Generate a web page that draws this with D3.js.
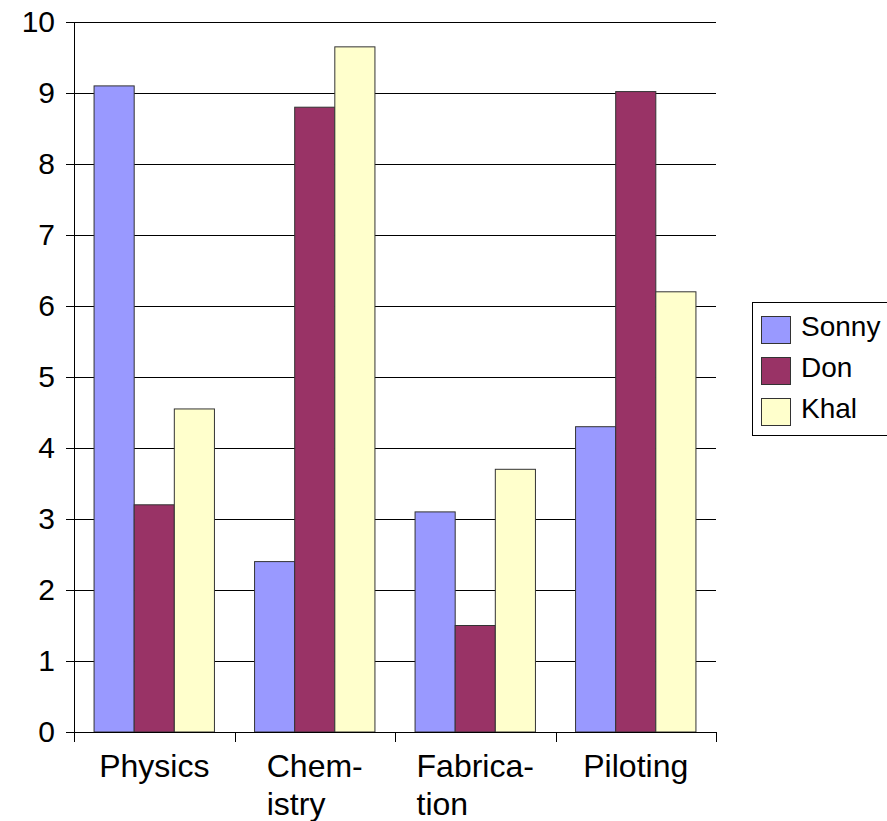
<!DOCTYPE html>
<html>
<head>
<meta charset="utf-8">
<script src="https://cdn.jsdelivr.net/npm/d3@7"></script>
<style>
  body { margin: 0; background: #fff; }
  text { font-family: "Liberation Sans", Arial, sans-serif; fill: #000; }
</style>
</head>
<body>
<svg id="chart" width="887" height="821"></svg>
<script>
// data
let categories = ["Physics", "Chemistry", "Fabrication", "Piloting"];
let catLines = [["Physics"], ["Chem-", "istry"], ["Fabrica-", "tion"], ["Piloting"]];
let seriesNames = ["Sonny", "Don", "Khal"];
let sonny = [9.1, 2.4, 3.1, 4.3];
let don = [3.2, 8.8, 1.5, 9.02];
let khal = [4.55, 9.65, 3.7, 6.2];
let yTicks = [0, 1, 2, 3, 4, 5, 6, 7, 8, 9, 10];
let colors = ["#9999FF", "#993366", "#FFFFCC"];

let svg = d3.select("#chart"),
    margin = {top: 22, left: 74},
    width = 642,
    height = 710,
    g = svg.append("g").attr("transform", "translate(" + margin.left + "," + margin.top + ")");

let values = [sonny, don, khal];
let data = categories.map(function(c, i) {
    return {cat: c, vals: seriesNames.map(function(s, j) { return {name: s, v: values[j][i], k: j}; })};
});

//scales
let x0 = d3.scaleBand().domain(categories).range([0, width]).paddingInner(0.25).paddingOuter(0.125);
let x1 = d3.scaleBand().domain(seriesNames).range([0, x0.bandwidth()]);
let y = d3.scaleLinear().domain([0, 10]).range([height, 0]);
let color = d3.scaleOrdinal().domain(seriesNames).range(colors);

//gridlines
g.selectAll(".grid")
    .data(yTicks)
    .enter()
    .append("line")
    .attr("x1", 0)
    .attr("x2", width)
    .attr("y1", function(d) { return Math.round(y(d)) + 0.5; })
    .attr("y2", function(d) { return Math.round(y(d)) + 0.5; })
    .style("stroke", "#000")
    .style("stroke-width", 1);

//bars
let groups = g.selectAll(".grp")
    .data(data)
    .enter()
    .append("g")
    .attr("transform", function(d) { return "translate(" + x0(d.cat) + ",0)"; });

groups.selectAll("rect")
    .data(function(d) { return d.vals; })
    .enter()
    .append("rect")
    .attr("x", function(d) { return x1(d.name); })
    .attr("y", function(d) { return y(d.v); })
    .attr("width", x1.bandwidth())
    .attr("height", function(d) { return height - y(d.v); })
    .style("fill", function(d) { return color(d.name); })
    .style("stroke", "#333")
    .style("stroke-width", 1);

//y axis
let yAxis = g.append("g")
    .call(d3.axisLeft(y).tickValues(yTicks).tickSize(8).tickPadding(11).tickSizeOuter(0));
yAxis.select(".domain").style("stroke", "#000");
yAxis.selectAll(".tick line").style("stroke", "#000");
yAxis.selectAll(".tick text").style("font-size", "30px");

//x axis with tick marks on band edges
let xAxis = g.append("g").attr("transform", "translate(0," + height + ")");
xAxis.append("line")
    .attr("x1", 0).attr("x2", width)
    .attr("y1", 0.5).attr("y2", 0.5)
    .style("stroke", "#000");
let edges = d3.range(categories.length + 1).map(function(i) { return i * width / categories.length; });
xAxis.selectAll(".xt")
    .data(edges)
    .enter()
    .append("line")
    .attr("x1", function(d) { return Math.round(d) + 0.5; })
    .attr("x2", function(d) { return Math.round(d) + 0.5; })
    .attr("y1", 0)
    .attr("y2", 10)
    .style("stroke", "#000");

//category labels, lines left aligned, block centred
categories.forEach(function(c, i) {
    let cx = x0(c) + x0.bandwidth() / 2;
    let t = xAxis.append("text")
        .style("font-size", "32px")
        .attr("text-anchor", "start");
    catLines[i].forEach(function(line, k) {
        t.append("tspan").attr("y", 45 + k * 38).text(line);
    });
    let w = 0;
    t.selectAll("tspan").each(function() { w = Math.max(w, this.getComputedTextLength()); });
    t.selectAll("tspan").attr("x", cx - w / 2);
});

//legend
let legend = svg.append("g").attr("transform", "translate(752,302)");
legend.append("rect")
    .attr("x", 0.5).attr("y", 0.5)
    .attr("width", 140).attr("height", 133)
    .style("fill", "#fff")
    .style("stroke", "#000");
seriesNames.forEach(function(s, i) {
    legend.append("rect")
        .attr("x", 9.5).attr("y", 14.5 + i * 41)
        .attr("width", 29).attr("height", 27)
        .style("fill", color(s))
        .style("stroke", "#333");
    legend.append("text")
        .attr("x", 49).attr("y", 34 + i * 41)
        .style("font-size", "28px")
        .text(s);
});
</script>
</body>
</html>
